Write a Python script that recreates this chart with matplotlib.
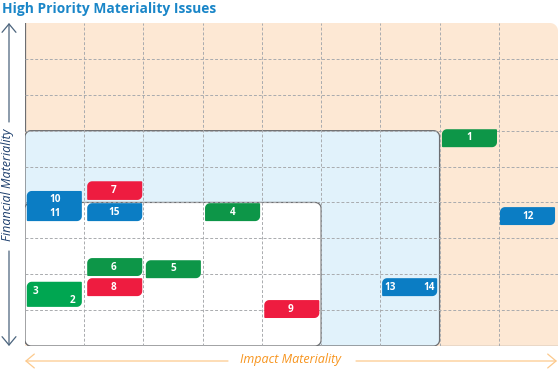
import numpy as np
import matplotlib
matplotlib.use("Agg")
import matplotlib.pyplot as plt

plt.rcParams['font.family'] = ['Open Sans', 'DejaVu Sans']

# matrix is 9 x 9 cells
n_cols = 9
n_rows = 9

# threshold regions, width and height in cells from the lower left corner
blue_region = [7, 6]
white_region = [5, 4]

# coloured tags: left, bottom, height (in cells) and colour
tag_left = [7.04, 8.02, 0.03, 1.05, 1.05, 3.04, 1.05, 2.04, 1.05, 0.03, 4.04, 6.03]
tag_bottom = [5.54, 3.37, 3.48, 4.07, 3.48, 3.48, 1.95, 1.89, 1.39, 1.09, 0.78, 1.39]
tag_height = [0.50, 0.50, 0.84, 0.52, 0.50, 0.50, 0.50, 0.50, 0.50, 0.70, 0.50, 0.50]
tag_color = ['green', 'blue', 'blue', 'red', 'blue', 'green',
             'green', 'green', 'red', 'green2', 'red', 'blue']
tag_width = 0.93

# issue numbers and where they sit
issue_ids = [1, 2, 3, 4, 5, 6, 7, 8, 9, 10, 11, 12, 13, 14, 15]
issue_x = [7.50, 0.81, 0.17, 3.50, 2.50, 1.50, 1.50, 1.50, 4.49, 0.51, 0.51, 8.49, 6.16, 6.82, 1.50]
issue_y = [5.80, 1.28, 1.53, 3.73, 2.15, 2.20, 4.32, 1.64, 1.03, 4.07, 3.68, 3.62, 1.64, 1.64, 3.73]

colors = {'green': '#0d9648', 'green2': '#00a651', 'red': '#ee1c40', 'blue': '#0b7dc4'}

W, H = 558, 371
X0, X1, Y0, Y1 = 25, 558, 23, 346   # plot area in pixels
SX = (X1 - X0) / n_cols
SY = (Y1 - Y0) / n_rows


def rounded_box(x0, y0, x1, y1, radii, **kw):
    """radii in px: lower-left, lower-right, upper-right, upper-left"""
    corners = [(x0, y0, 1, 1, 180), (x1, y0, -1, 1, 270),
               (x1, y1, -1, -1, 0), (x0, y1, 1, -1, 90)]
    pts = []
    for (cx, cy, dx, dy, a0), r in zip(corners, radii):
        if r == 0:
            pts.append((cx, cy))
            continue
        rx, ry = r / SX, r / SY
        t = np.radians(np.linspace(a0, a0 + 90, 12))
        ccx, ccy = cx + dx * rx, cy + dy * ry
        pts.extend(zip(ccx + rx * np.cos(t), ccy + ry * np.sin(t)))
    return plt.Polygon(pts, closed=True, **kw)


fig = plt.figure(figsize=(W / 100, H / 100), dpi=100)

# overlay in pixel coords for title and axis arrows
ov = fig.add_axes([0, 0, 1, 1])
ov.set_xlim(0, W)
ov.set_ylim(H, 0)
ov.axis('off')

ax = fig.add_axes([X0 / W, (H - Y1) / H, (X1 - X0) / W, (Y1 - Y0) / H])
ax.set_xlim(0, n_cols)
ax.set_ylim(0, n_rows)
ax.axis('off')

edge = '#6d6e71'
ax.add_patch(rounded_box(0, 0, n_cols, n_rows, (0, 0, 8, 0), facecolor='#fde8d4',
                         edgecolor='none', zorder=0))
ax.add_patch(rounded_box(0, 0, blue_region[0], blue_region[1], (6, 6, 6, 6),
                         facecolor='#e1f2fb', edgecolor=edge, lw=0.9, zorder=1))
ax.add_patch(rounded_box(0, 0, white_region[0], white_region[1], (6, 6, 6, 6),
                         facecolor='white', edgecolor=edge, lw=0.9, zorder=2))
ax.plot([0, 0], [blue_region[1], n_rows], color=edge, lw=0.9, zorder=2)
ax.plot([blue_region[0], n_cols], [0, 0], color=edge, lw=0.9, zorder=2)

# dashed grid
for i in range(1, n_cols):
    ax.plot([i, i], [0, n_rows], color='#a9abae', lw=0.7, ls=(0, (3, 2)), zorder=3)
for j in range(1, n_rows):
    ax.plot([0, n_cols], [j, j], color='#a9abae', lw=0.7, ls=(0, (3, 2)), zorder=3)

# tags
for l, b, h, c in zip(tag_left, tag_bottom, tag_height, tag_color):
    ax.add_patch(rounded_box(l, b, l + tag_width, b + h, (1, 5, 1, 5),
                             facecolor=colors[c], edgecolor='none', zorder=5))
for n, x, y in zip(issue_ids, issue_x, issue_y):
    ax.text(x, y, str(n), color='white', fontsize=7.2, fontweight='bold',
            ha='center', va='center', zorder=6)

# title
ov.text(2, 12.5, 'High Priority Materiality Issues', color='#1a86c8', fontsize=9.9,
        fontweight='bold', ha='left', va='baseline')

# axis arrows
head = '->,head_length=0.6,head_width=0.5'
ycol = '#4b647d'
ov.annotate('', xy=(9, 23), xytext=(9, 122),
            arrowprops=dict(arrowstyle=head, color=ycol, lw=0.9, shrinkA=0, shrinkB=0))
ov.annotate('', xy=(9, 346), xytext=(9, 251),
            arrowprops=dict(arrowstyle=head, color=ycol, lw=0.9, shrinkA=0, shrinkB=0))
ov.text(8, 185, 'Financial Materiality', color='#1d3f6e', fontsize=9, style='italic',
        rotation=90, ha='center', va='center')

xcol = '#fcc98c'
ov.annotate('', xy=(25, 361), xytext=(228, 361),
            arrowprops=dict(arrowstyle=head, color=xcol, lw=0.9, shrinkA=0, shrinkB=0))
ov.annotate('', xy=(557, 361), xytext=(356, 361),
            arrowprops=dict(arrowstyle=head, color=xcol, lw=0.9, shrinkA=0, shrinkB=0))
ov.text(290, 360, 'Impact Materiality', color='#f7941d', fontsize=9, style='italic',
        ha='center', va='center')

fig.savefig('out.png', dpi=100)
